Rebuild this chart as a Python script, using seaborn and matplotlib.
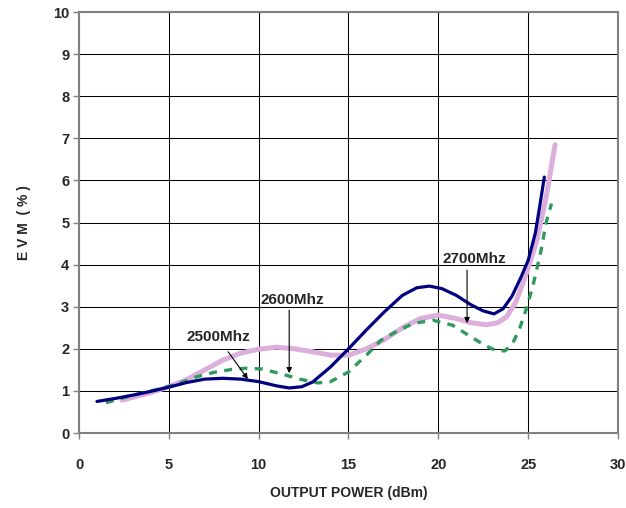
import numpy as np
import pandas as pd
import matplotlib
matplotlib.use("Agg")
import matplotlib.pyplot as plt
import seaborn as sns

# courbes (x = puissance de sortie en dBm, y = EVM en %)
x_navy = [1, 2, 3, 4, 5, 6, 7, 8, 9, 10, 11, 11.7, 12.4, 13, 14, 15, 16, 17, 18,
          18.8, 19.5, 20.2, 21, 21.8, 22.5, 23.1, 23.6, 24.1, 24.6, 25, 25.4, 25.65, 25.9]
y_navy = [0.75, 0.82, 0.9, 0.99, 1.09, 1.2, 1.28, 1.3, 1.28, 1.22, 1.12, 1.07, 1.1, 1.21,
          1.57, 2.0, 2.45, 2.88, 3.27, 3.45, 3.49, 3.43, 3.27, 3.05, 2.9, 2.83, 2.95, 3.25,
          3.7, 4.1, 4.75, 5.4, 6.08]

x_pink = [2.4, 3, 4, 5, 6, 7, 8, 9, 10, 11, 12, 13, 14, 15, 16, 17, 18, 19, 20, 21,
          21.8, 22.7, 23.3, 23.8, 24.3, 24.7, 25.1, 25.5, 26, 26.5]
y_pink = [0.78, 0.85, 0.96, 1.1, 1.27, 1.5, 1.73, 1.9, 1.99, 2.04, 2.0, 1.93, 1.85, 1.85,
          2.0, 2.22, 2.5, 2.72, 2.8, 2.72, 2.62, 2.57, 2.62, 2.76, 3.1, 3.55, 4.05, 4.6,
          5.6, 6.85]

x_green = [1.5, 2.5, 3.5, 4.5, 5.5, 6.5, 7.5, 8.5, 9.3, 10.2, 11.3, 12.3, 13.3, 14, 15,
           16, 16.8, 17.7, 18.6, 19.7, 20.8, 21.8, 22.6, 23.2, 23.7, 24.1, 24.5, 24.9,
           25.3, 25.7, 26.0, 26.3]
y_green = [0.72, 0.84, 0.95, 1.05, 1.17, 1.33, 1.44, 1.51, 1.54, 1.52, 1.4, 1.28, 1.19,
           1.22, 1.45, 1.85, 2.2, 2.42, 2.6, 2.68, 2.56, 2.29, 2.08, 1.96, 1.95, 2.1, 2.45,
           2.95, 3.56, 4.3, 5.0, 5.45]

x_ticks = [0, 5, 10, 15, 20, 25, 30]
y_ticks = [0, 1, 2, 3, 4, 5, 6, 7, 8, 9, 10]

# annotations : texte, position du texte, debut et fin de la fleche
labels = ["2500Mhz", "2600Mhz", "2700Mhz"]
label_xy = [(7.75, 2.28), (11.85, 3.16), (22.0, 4.13)]
arrow_from = [(8.3, 1.93), (11.7, 2.92), (21.6, 3.87)]
arrow_to = [(9.4, 1.28), (11.7, 1.42), (21.6, 2.61)]

sns.set_style("white")
plt.rcParams["font.family"] = ["Liberation Sans", "DejaVu Sans"]
plt.rcParams["font.weight"] = "bold"
plt.rcParams["lines.solid_joinstyle"] = "round"
plt.rcParams["lines.dash_joinstyle"] = "round"

fig = plt.figure(figsize=(6.26, 5.08), dpi=100)
ax = fig.add_axes([0.1262, 0.1476, 0.861, 0.8287])

df_pink = pd.DataFrame({"x": x_pink, "y": y_pink})
df_green = pd.DataFrame({"x": x_green, "y": y_green})
df_navy = pd.DataFrame({"x": x_navy, "y": y_navy})

sns.lineplot(data=df_pink, x="x", y="y", ax=ax, sort=False, color="#DBAEDC", lw=3.6,
             zorder=3)
sns.lineplot(data=df_green, x="x", y="y", ax=ax, sort=False, color="#2E9A5C", lw=2.4,
             zorder=4, dashes=False, linestyle=(0, (2.4, 2.2)))
sns.lineplot(data=df_navy, x="x", y="y", ax=ax, sort=False, color="#000080", lw=2.3,
             zorder=5)

for txt, xy, a0, a1 in zip(labels, label_xy, arrow_from, arrow_to):
    ax.text(xy[0], xy[1], txt, ha="center", va="center", fontsize=11,
            fontweight="bold", zorder=6)
    ax.annotate("", xy=a1, xytext=a0,
                arrowprops=dict(arrowstyle="-|>", color="black", lw=0.8,
                                mutation_scale=8, shrinkA=0, shrinkB=0), zorder=6)

ax.set_xlim(0, 30)
ax.set_ylim(0, 10)
ax.set_xticks(x_ticks)
ax.set_yticks(y_ticks)
ax.grid(True, color="black", lw=0.75)
ax.set_axisbelow(True)
for s in ax.spines.values():
    s.set_color("#808080")
    s.set_linewidth(1.5)
ax.tick_params(axis="y", direction="out", length=4, width=1, color="#808080",
               labelsize=10.5, pad=3, left=True)
ax.tick_params(axis="x", direction="out", length=4, width=1, color="#808080",
               labelsize=10.5, pad=14, bottom=True)
for lab in ax.get_xticklabels() + ax.get_yticklabels():
    lab.set_fontweight("bold")

ax.set_xlabel("OUTPUT POWER (dBm)", fontsize=10, fontweight="bold", labelpad=10)
ax.set_ylabel("E V M  ( % )", fontsize=10, fontweight="bold", labelpad=16)

plt.savefig("out.png", dpi=100)
